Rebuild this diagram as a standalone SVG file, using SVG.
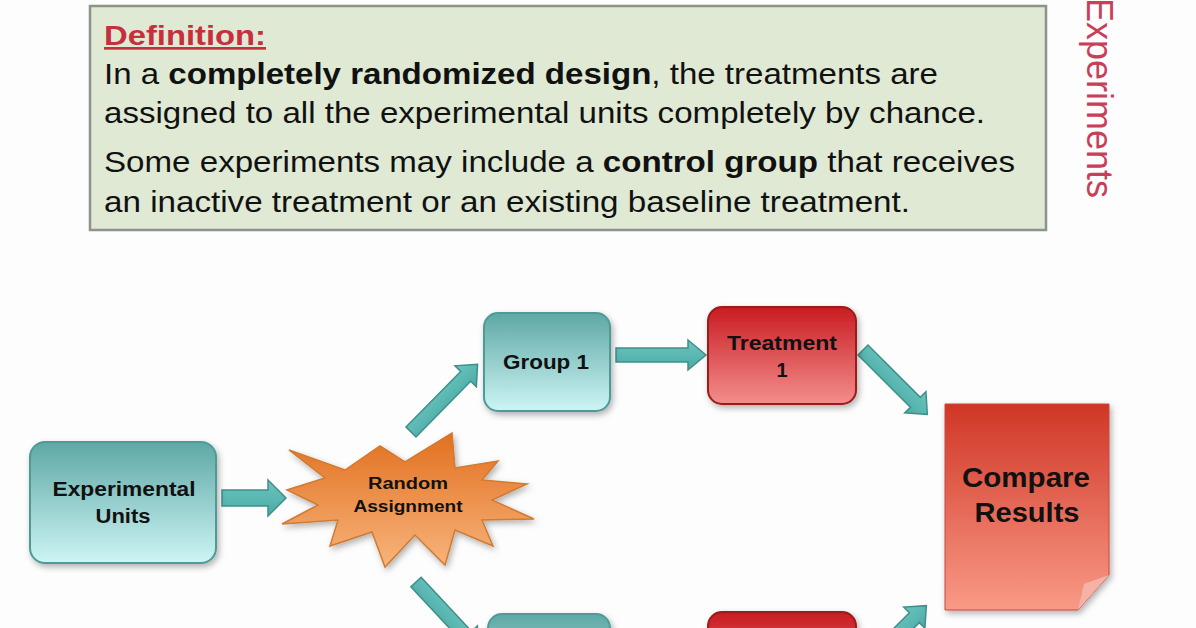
<svg xmlns="http://www.w3.org/2000/svg" width="1196" height="628" viewBox="0 0 1196 628">
<style>
.def{font-family:"Liberation Sans",Arial,sans-serif;font-size:30px;fill:#111}
.b{font-weight:bold}
.node{font-family:"Liberation Sans",Arial,sans-serif;font-weight:bold;fill:#111;text-anchor:middle}
.arrow{fill:url(#gArrow);stroke:#3f8f8b;stroke-width:1.5}
</style>
<defs>
<linearGradient id="gTeal" x1="0" y1="0" x2="0" y2="1">
<stop offset="0" stop-color="#5ea8a5"/><stop offset="1" stop-color="#cdf5f5"/>
</linearGradient>
<linearGradient id="gRed" x1="0" y1="0" x2="0" y2="1">
<stop offset="0" stop-color="#c91c22"/><stop offset="1" stop-color="#f38e8c"/>
</linearGradient>
<linearGradient id="gCmp" x1="0" y1="0" x2="0" y2="1">
<stop offset="0" stop-color="#d03626"/><stop offset="1" stop-color="#f99a86"/>
</linearGradient>
<linearGradient id="gStar" x1="0" y1="0" x2="0" y2="1">
<stop offset="0" stop-color="#e2701f"/><stop offset="1" stop-color="#f7b47c"/>
</linearGradient>
<linearGradient id="gArrow" x1="0" y1="0" x2="0" y2="1">
<stop offset="0" stop-color="#6cc5bf"/><stop offset="1" stop-color="#4aaaa4"/>
</linearGradient>
<filter id="sh" x="-10%" y="-10%" width="130%" height="130%">
<feDropShadow dx="2" dy="3" stdDeviation="3" flood-color="#000" flood-opacity="0.3"/>
</filter>
</defs>
<rect width="1196" height="628" fill="#fdfdfd"/>

<g id="definition">
<rect x="90" y="6" width="956" height="224" fill="#dfe9d4" stroke="#8e948a" stroke-width="2.5"/>
<text x="104" y="45" font-family="Liberation Sans,Arial,sans-serif" font-size="27" font-weight="bold" fill="#c62f3c" text-decoration="underline" textLength="162" lengthAdjust="spacingAndGlyphs">Definition:</text>
<text class="def" x="104" y="84" textLength="834" lengthAdjust="spacingAndGlyphs">In a <tspan class="b">completely randomized design</tspan>, the treatments are</text>
<text class="def" x="104" y="123" textLength="881" lengthAdjust="spacingAndGlyphs">assigned to all the experimental units completely by chance.</text>
<text class="def" x="104" y="172" textLength="911" lengthAdjust="spacingAndGlyphs">Some experiments may include a <tspan class="b">control group</tspan> that receives</text>
<text class="def" x="104" y="212" textLength="806" lengthAdjust="spacingAndGlyphs">an inactive treatment or an existing baseline treatment.</text>
</g>

<g id="title">
<text transform="translate(1087,-2) rotate(90)" font-family="Liberation Sans,Arial,sans-serif" font-size="36" fill="#c93e58">Experiments</text>
</g>

<g id="connectors">
<path class="arrow" transform="translate(222,498)" d="M0,-8 H46 V-18 L64,0 L46,18 V8 H0 Z"/>
<path class="arrow" transform="translate(411,432) rotate(-45.5)" d="M0,-7 H78 V-15 L95,0 L78,15 V7 H0 Z"/>
<path class="arrow" transform="translate(616,355)" d="M0,-7 H72 V-15 L90,0 L72,15 V7 H0 Z"/>
<path class="arrow" transform="translate(863,350) rotate(45)" d="M0,-7 H74 V-15 L91,0 L74,15 V7 H0 Z"/>
<path class="arrow" transform="translate(416,582) rotate(47)" d="M0,-7 H74 V-15 L91,0 L74,15 V7 H0 Z"/>
<path class="arrow" transform="translate(862,670) rotate(-45)" d="M0,-7 H74 V-15 L91,0 L74,15 V7 H0 Z"/>
</g>

<g id="experimental-units">
<rect x="30" y="442" width="186" height="121" rx="15" fill="url(#gTeal)" stroke="#4e9a96" stroke-width="2" filter="url(#sh)"/>
<text class="node" x="124" y="496" font-size="20" textLength="143" lengthAdjust="spacingAndGlyphs">Experimental</text>
<text class="node" x="123" y="523" font-size="20" textLength="55" lengthAdjust="spacingAndGlyphs">Units</text>
</g>

<g id="random-assignment">
<polygon points="289,450 345,470 380,446 405,462 452,433 455,468 498,461 482,480 527,484 492,500 534,519 482,520 493,546 455,530 445,565 415,535 385,567 372,532 330,546 338,520 282,524 318,505 287,490 325,478" fill="url(#gStar)" stroke="#d07a30" stroke-width="1.5" filter="url(#sh)"/>
<text class="node" x="408" y="489" font-size="16" textLength="80" lengthAdjust="spacingAndGlyphs">Random</text>
<text class="node" x="408" y="512" font-size="16" textLength="109" lengthAdjust="spacingAndGlyphs">Assignment</text>
</g>

<g id="group-1">
<rect x="484" y="313" width="126" height="98" rx="14" fill="url(#gTeal)" stroke="#4e9a96" stroke-width="2" filter="url(#sh)"/>
<text class="node" x="546" y="369" font-size="20" textLength="86" lengthAdjust="spacingAndGlyphs">Group 1</text>
</g>

<g id="treatment-1">
<rect x="708" y="307" width="148" height="97" rx="14" fill="url(#gRed)" stroke="#9c1a1c" stroke-width="2" filter="url(#sh)"/>
<text class="node" x="782" y="350" font-size="20" textLength="110" lengthAdjust="spacingAndGlyphs">Treatment</text>
<text class="node" x="782" y="377" font-size="20">1</text>
</g>

<g id="compare-results">
<path d="M945,404 H1109 V575 L1078,610 H945 Z" fill="url(#gCmp)" stroke="#c9463a" stroke-width="1" filter="url(#sh)"/>
<path d="M1109,575 L1078,610 L1084,584 Z" fill="#f4b3a6"/>
<text class="node" x="1026" y="487" font-size="28" textLength="128" lengthAdjust="spacingAndGlyphs">Compare</text>
<text class="node" x="1027" y="522" font-size="28" textLength="105" lengthAdjust="spacingAndGlyphs">Results</text>
</g>

<g id="group-2">
<rect x="488" y="614" width="122" height="98" rx="14" fill="url(#gTeal)" stroke="#4e9a96" stroke-width="2" filter="url(#sh)"/>
</g>

<g id="treatment-2">
<rect x="708" y="612" width="148" height="97" rx="14" fill="url(#gRed)" stroke="#9c1a1c" stroke-width="2" filter="url(#sh)"/>
</g>
</svg>
